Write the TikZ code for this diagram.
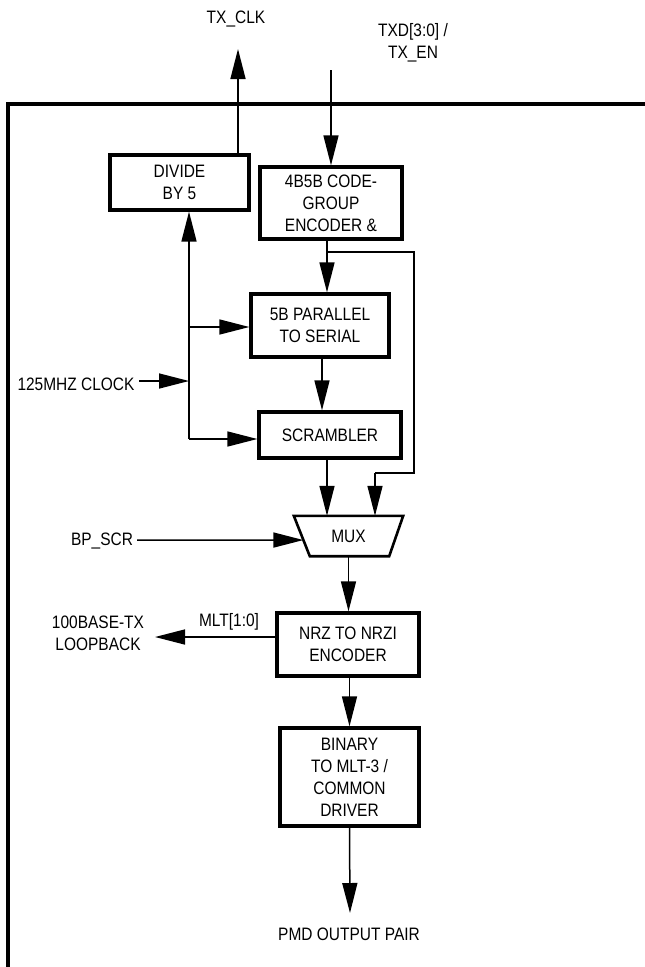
\documentclass[tikz,border=0pt]{standalone}
\usepackage{fontspec}
\setmainfont[FakeStretch=0.86]{Liberation Sans}
\usetikzlibrary{arrows.meta,calc}
\begin{document}
\begin{tikzpicture}[x=1pt,y=-1pt,
  every node/.style={font=\fontsize{18}{22}\selectfont, align=center, inner sep=0pt},
  blk/.style={draw, line width=3.3pt, minimum width=#1},
  conn/.style={line width=1.5pt},
  arr/.style={conn, -{Triangle[length=30pt,width=15pt]}},
  frame/.style={line width=3.3pt}]
\useasboundingbox (0,0) rectangle (645,967);
% outer frame
\coordinate (ftl) at (8,104);
\coordinate (ftr) at (646,104);
\coordinate (fbl) at (8,968);
% labels
\node (txclk) at (236,19) {TX\_CLK};
\node (txd) at (413,43) {TXD[3:0] /\\TX\_EN};
\node (clk) at (76,384) {125MHZ CLOCK};
\node (bpscr) at (102,541) {BP\_SCR};
\node (lb) at (98,633) {100BASE-TX\\LOOPBACK};
\node (mlt) at (229,622) {MLT[1:0]};
\node (pmd) at (349,934) {PMD OUTPUT PAIR};
% blocks
\node[blk=139pt, minimum height=55pt] (div) at (179.5,182.5) {DIVIDE\\BY 5};
\node[blk=142pt, minimum height=72pt] (enc) at (331,203) {4B5B CODE-\\GROUP\\ENCODER \&};
\node[blk=138pt, minimum height=63pt] (ps) at (320,325.5) {5B PARALLEL\\TO SERIAL};
\node[blk=142pt, minimum height=46pt] (scr) at (330,435) {SCRAMBLER};
\node[minimum width=109pt, minimum height=40pt] (mux) at (348.5,536) {MUX};
\draw[line width=2.6pt] (mux.north west) -- (mux.north east) -- ([xshift=-14pt]mux.south east) -- ([xshift=16pt]mux.south west) -- cycle;
\node[blk=142pt, minimum height=63pt] (nrz) at (348,644.5) {NRZ TO NRZI\\ENCODER};
\node[blk=139pt, minimum height=98pt] (bin) at (349.5,777) {BINARY\\TO MLT-3 /\\COMMON\\DRIVER};
% coordinates
\coordinate (txtip) at (238,49);
\coordinate (txdtop) at (331,70);
\coordinate (encout) at ([xshift=-4pt]enc.south);
\coordinate (split) at (327,252);
\coordinate (lr1) at (414,252);
\coordinate (lr2) at (414,473);
\coordinate (lr3) at (375,473);
\coordinate (psx) at (322,0);
\coordinate (scrx) at (327,0);
\coordinate (cbus) at (189,381);
\coordinate (cb1) at (189,327);
\coordinate (cb2) at (189,439);
\coordinate (clkin) at (139,381);
\coordinate (bpin) at (137,540);
\coordinate (muxl) at ($(mux.north west)!0.6!([xshift=16pt]mux.south west)$);
\coordinate (lbtip) at (155,637);
\coordinate (pmdtip) at (350,913);
% connectors
\draw[arr] (div.north -| txtip) -- (txtip);
\draw[arr] (txdtop) -- (enc.north);
\draw[arr] (encout) -- (encout |- ps.north);
\draw[conn] (split) -- (lr1) -- (lr2) -- (lr3);
\draw[arr] (lr3) -- (lr3 |- mux.north);
\draw[arr] (ps.south -| psx) -- (psx |- scr.north);
\draw[arr] (scr.south -| scrx) -- (scrx |- mux.north);
\draw[arr] (cb2) -- (cb2 |- div.south);
\draw[arr] (cb1) -- (ps.west |- cb1);
\draw[arr] (cb2) -- (scr.west |- cb2);
\draw[arr] (clkin) -- (cbus);
\draw[arr] (bpin) -- (muxl);
\draw[arr] (mux.south) -- (mux.south |- nrz.north);
\draw[arr] (nrz.west |- lbtip) -- (lbtip);
\draw[arr] (nrz.south -| bin.north) -- (bin.north);
\draw[arr] (bin.south) -- (pmdtip);
% frame on top
\draw[frame] (fbl) -- (ftl) -- (ftr);
\end{tikzpicture}
\end{document}
